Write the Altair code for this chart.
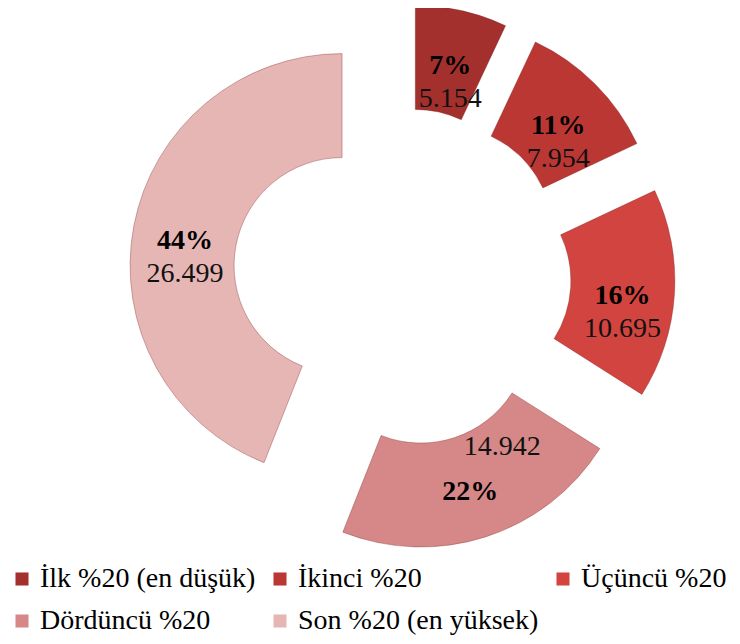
import math
import altair as alt
import pandas as pd

# ---- data ----
categories = ["İlk %20 (en düşük)", "İkinci %20", "Üçüncü %20",
              "Dördüncü %20", "Son %20 (en yüksek)"]
shares = [7, 11, 16, 22, 44]                     # percent labels (slice angles)
values = [5154, 7954, 10695, 14942, 26499]       # value labels
colors = ["#a3302d", "#bb3733", "#d2443f", "#d58887", "#e6b6b5"]

# ---- derived table ----
df = pd.DataFrame({"cat": categories, "share": shares, "value": values})
df["t1"] = df["share"].cumsum()
df["t0"] = df["t1"] - df["share"]
df["mid"] = (df["t0"] + df["t1"]) / 2
ang = df["mid"] / 100 * 2 * math.pi
df["ox"] = [math.sin(a) for a in ang]   # explode direction
df["oy"] = [math.cos(a) for a in ang]
df["pct_label"] = [f"{s}%" for s in shares]
df["val_label"] = [f"{v:,}".replace(",", ".") for v in values]

FONT = "'Liberation Serif', 'Times New Roman', serif"

xenc = alt.X("ox:Q", scale=alt.Scale(domain=[-1, 1], range=[333, 455], zero=False, nice=False),
             axis=None, stack=None)
yenc = alt.Y("oy:Q", scale=alt.Scale(domain=[-1, 1], range=[330, 208], zero=False, nice=False),
             axis=None, stack=None)
theta_scale = alt.Scale(domain=[0, 100], range=[0, 2 * math.pi])

base = alt.Chart(df)

arcs = base.mark_arc(radius=212, radius2=108, stroke="#7a2626", strokeWidth=0.6,
                     strokeOpacity=0.6).encode(
    x=xenc,
    y=yenc,
    theta=alt.Theta("t0:Q", scale=theta_scale, stack=None),
    theta2="t1:Q",
    color=alt.Color(
        "cat:N",
        scale=alt.Scale(domain=categories, range=colors),
        sort=categories,
        legend=alt.Legend(
            orient="none", legendX=0, legendY=557, direction="horizontal",
            columns=3, columnPadding=10, rowPadding=14, gridAlign="each",
            padding=0, symbolType="square", symbolSize=170, symbolStrokeWidth=0,
            labelFont=FONT, labelFontSize=28, labelColor="black",
            labelLimit=400, labelOffset=4, title=None,
        ),
    ),
)

pct_text = base.mark_text(radius=160, dy=5, font=FONT, fontSize=28, fontWeight="bold",
                          color="black").encode(
    x=xenc, y=yenc,
    theta=alt.Theta("mid:Q", scale=theta_scale, stack=None),
    text="pct_label:N",
)

val_text = base.transform_filter(alt.datum.cat != "Dördüncü %20").mark_text(
    radius=160, dy=38, font=FONT, fontSize=28, color="#111111").encode(
    x=xenc, y=yenc,
    theta=alt.Theta("mid:Q", scale=theta_scale, stack=None),
    text="val_label:N",
)

# in the reference the value of the bottom slice sits above its percentage
val_text_up = base.transform_filter(alt.datum.cat == "Dördüncü %20").mark_text(
    radius=160, dx=32, dy=-40, font=FONT, fontSize=28, color="#111111").encode(
    x=xenc, y=yenc,
    theta=alt.Theta("mid:Q", scale=theta_scale, stack=None),
    text="val_label:N",
)

chart = alt.layer(arcs, pct_text, val_text, val_text_up).properties(
    width=724, height=628, autosize="none", padding=0
).configure_view(strokeWidth=0)

chart.save("out.html", embed_options={"renderer": "svg", "actions": False})
